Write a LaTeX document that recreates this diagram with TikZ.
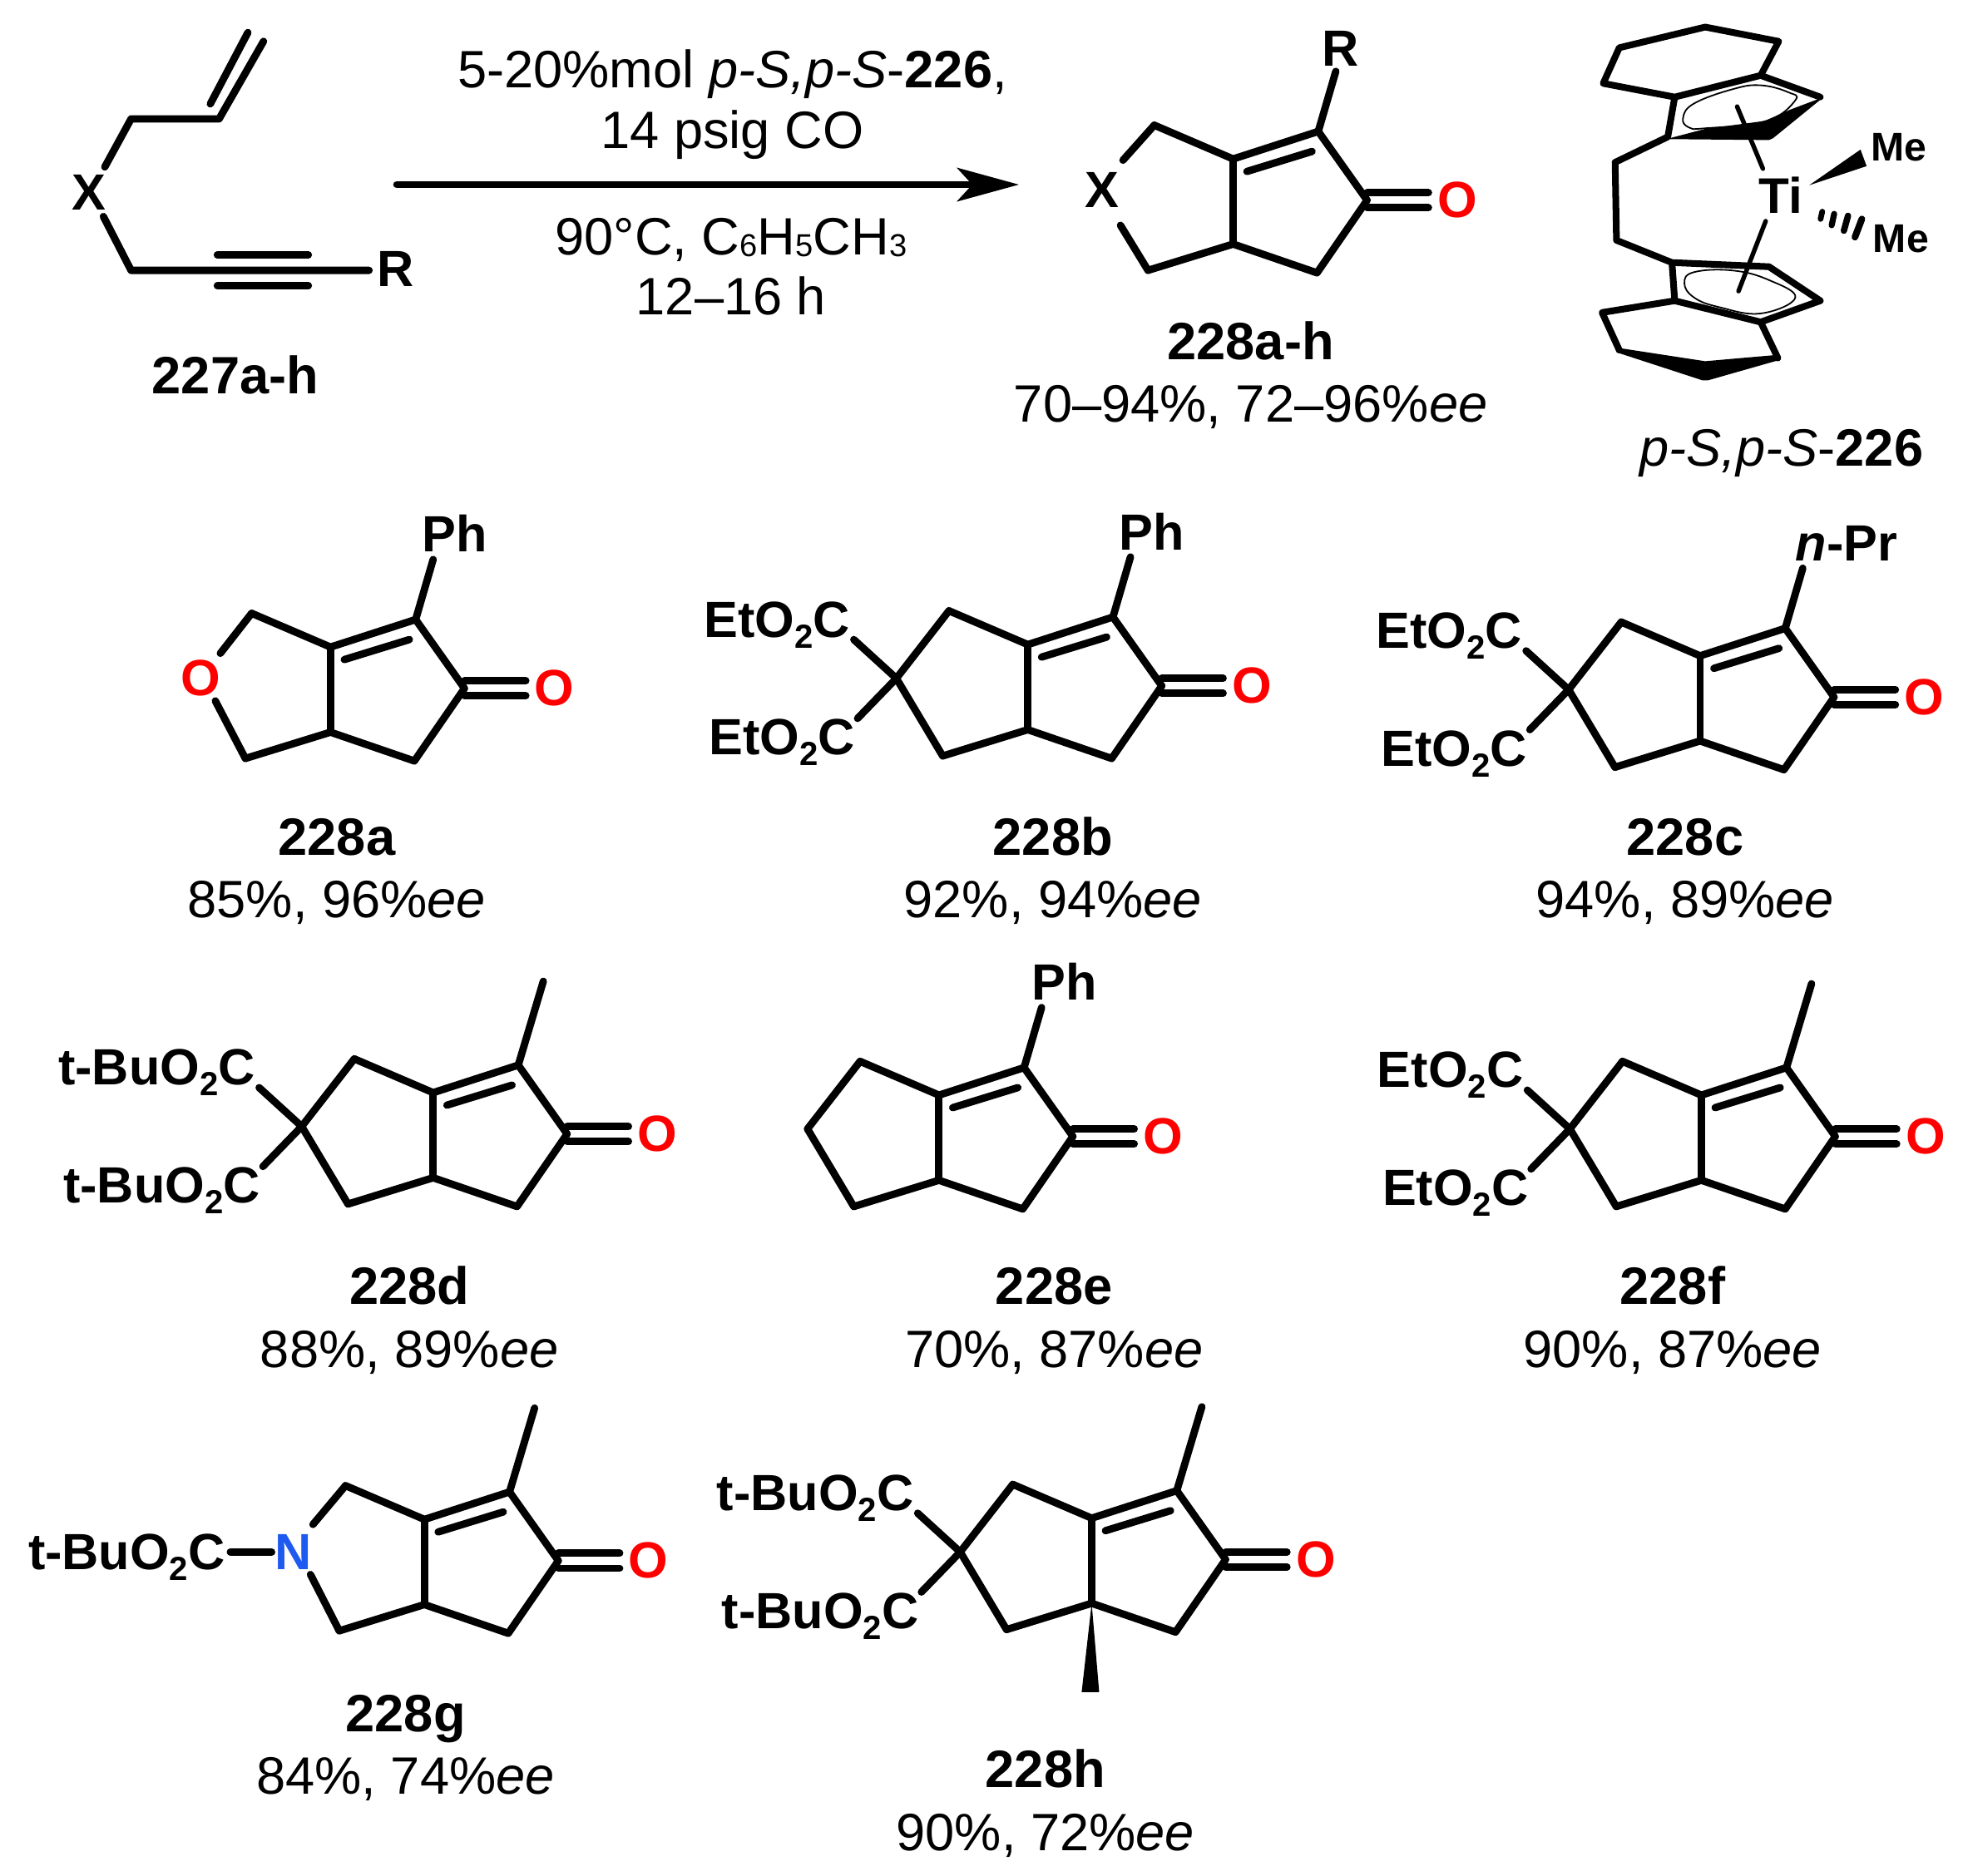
\documentclass[tikz,border=0pt]{standalone}
\usepackage{fontspec}
\setmainfont{Liberation Sans}
\usetikzlibrary{arrows.meta,calc}
\definecolor{oxred}{RGB}{255,0,0}
\definecolor{nblue}{RGB}{30,90,240}
\newcommand\chemsub[1]{\raisebox{-6.5pt}{\fontsize{20}{20}\selectfont #1}}
\newcommand\plainsub[1]{\raisebox{-1pt}{\fontsize{19}{19}\selectfont #1}}
\tikzset{
  bond/.style={line width=4.4pt,line cap=round,line join=round},
  thinbond/.style={line width=2.7pt,line cap=round},
  atom/.style={font=\fontsize{30.5}{36}\selectfont\bfseries,inner sep=0pt,anchor=center},
  grp/.style={font=\fontsize{30.5}{36}\selectfont\bfseries,inner sep=0pt,anchor=base east},
  caption/.style={font=\fontsize{31.5}{36}\selectfont,inner sep=0pt,anchor=base,yshift=-10.8pt},
  ring/.style={line width=0.9pt},
}
% bicyclic enone core: name, x, y of the upper ring-fusion atom
\newcommand\Core[3]{%
\begin{scope}[shift={(#2,#3)}]
  \coordinate (#1a) at (0,0);
  \coordinate (#1b) at (0,68);
  \coordinate (#1c) at (68,-22);
  \coordinate (#1d) at (107,33);
  \coordinate (#1e) at (67,91);
  \coordinate (#1f) at (-63,-27);
  \coordinate (#1g) at (-105,27);
  \coordinate (#1h) at (-68,89);
  \coordinate (#1o) at (156,33);
  \coordinate (#1i) at (11,10);
  \coordinate (#1j) at (63,-6);
  \coordinate (#1m) at (88,-89);
  \coordinate (#1p) at (82,-70);
  \node[atom,text=oxred] (#1O) at (179,33) {O};
  \draw[bond] (#1h) -- (#1b) -- (#1e) -- (#1d) -- (#1c) -- (#1a) -- (#1f);
  \draw[bond] (#1a) -- (#1b);
  \draw[bond] (#1i) -- (#1j);
  \draw[bond] ([yshift=4.5pt]#1d) -- ([yshift=4.5pt]#1o);
  \draw[bond] ([yshift=-4.5pt]#1d) -- ([yshift=-4.5pt]#1o);
\end{scope}}
% carbon left ring closure
\newcommand\Closure[1]{\draw[bond] (#1f) -- (#1g) -- (#1h);}
% geminal diester: name, group text
\newcommand\Ester[2]{%
  \node[grp] (#1e1) at ($(#1a)+(-142,-6)$) {#2};
  \node[grp] (#1e2) at ($(#1a)+(-138,88)$) {#2};
  \coordinate (#1k1) at ($(#1a)+(-139,-4)$);
  \coordinate (#1k2) at ($(#1a)+(-136,59)$);
  \draw[bond] (#1g) -- (#1k1);
  \draw[bond] (#1g) -- (#1k2);}
\newcommand\Methyl[1]{\draw[bond] (#1c) -- (#1m);}
\newcommand\Subst[3]{%
  \node[atom] (#1s) at ($(#1a)+#3$) {#2};
  \draw[bond] (#1c) -- (#1p);}
\newcommand\Cap[5]{%
  \node[caption] (#1n) at (#2,#3) {\bfseries #4};
  \node[caption] (#1y) at (#2,#3+50) {#5};}
\begin{document}
\begin{tikzpicture}[x=0.75pt,y=-0.75pt]
\useasboundingbox (0,0) rectangle (1568,1498.3);

% ---------- substrate 227
\node[atom] (X) at (71,154) {X};
\coordinate (s1) at (83.7,133.4);
\coordinate (s2) at (104.7,95);
\coordinate (s3) at (175,95);
\coordinate (s4) at (210.5,33);
\coordinate (s5) at (168,83);
\coordinate (s6) at (198,26);
\coordinate (t1) at (82.6,173);
\coordinate (t2) at (104.7,216);
\coordinate (t3) at (294.8,216);
\coordinate (t4) at (173.6,203.6);
\coordinate (t5) at (246.3,203.6);
\coordinate (t6) at (173.6,228.3);
\coordinate (t7) at (246.3,228.3);
\node[atom] (R1) at (316,215) {R};
\draw[bond] (s1) -- (s2) -- (s3) -- (s4);
\draw[bond] (s5) -- (s6);
\draw[bond] (t1) -- (t2) -- (t3);
\draw[bond] (t4) -- (t5);
\draw[bond] (t6) -- (t7);
\node[caption] (L227) at (188,300) {\bfseries 227a-h};

% ---------- arrow and conditions
\coordinate (arrA) at (317,147.5);
\coordinate (arrB) at (814,147.5);
\draw[line width=4.4pt,line cap=round,-{Stealth[length=37pt,width=20pt,inset=9pt]}] (arrA) -- (arrB);
\node[caption] (c1) at (585,56) {5-20\%mol \textit{p-S,p-S}-\textbf{226},};
\node[caption] (c2) at (585,104.5) {14 psig CO};
\node[caption] (c3) at (584,189) {90°C, C\plainsub{6}H\plainsub{5}CH\plainsub{3}};
\node[caption] (c4) at (584,237) {12–16 h};

% ---------- general product 228a-h
\Core{p}{985}{127}
\node[atom] (pX) at (880,152) {X};
\coordinate (pu) at (897,128);
\coordinate (pv) at (895,180);
\draw[bond] (pf) -- (pu);
\draw[bond] (ph) -- (pv);
\Subst{p}{R}{(86,-88)}
\Cap{p}{999}{273}{228a-h}{70–94\%, 72–96\%\textit{ee}}

% ---------- catalyst 226
\begin{scope}[shift={(1229.2,0)},x=0.1661pt,y=-0.1907pt]
  \coordinate (k1) at (232,262);
  \coordinate (k2) at (290,150);
  \coordinate (k3) at (600,85);
  \coordinate (k4) at (865,130);
  \coordinate (k5) at (800,237);
  \coordinate (k6) at (490,305);
  \coordinate (k7) at (1015,305);
  \coordinate (k8) at (465,430);
  \coordinate (k9) at (275,510);
  \coordinate (k10) at (280,755);
  \coordinate (k11) at (480,825);
  \coordinate (k12) at (830,838);
  \coordinate (k13) at (1015,945);
  \coordinate (k14) at (800,1012);
  \coordinate (k15) at (490,945);
  \coordinate (k16) at (228,982);
  \coordinate (k17) at (290,1100);
  \coordinate (k18) at (600,1140);
  \coordinate (k19) at (862,1125);
  \draw[bond,line width=4pt] (k6) -- (k1) -- (k2) -- (k3) -- (k4) -- (k5) -- (k6) -- (k8) -- (k9) -- (k10) -- (k11) -- (k12) -- (k13) -- (k14) -- (k15) -- (k11);
  \draw[bond,line width=4pt] (k5) -- (k7);
  \draw[bond,line width=4pt] (k15) -- (k16) -- (k17);
  \draw[bond,line width=4pt] (k14) -- (k19);
  \fill (460,437) -- (600,405) -- (815,380) -- (905,345) -- (1027,305) -- (845,434) -- (830,440) -- cycle;
  \fill (285,1093) -- (600,1135) -- (862,1115) -- (872,1130) -- (610,1195) -- (590,1195) -- (280,1107) -- cycle;
  \draw[ring] plot[smooth cycle,tension=0.7] coordinates {(520,370) (560,325) (700,280) (800,268) (900,290) (925,315) (820,380) (600,403) (540,400)};
  \draw[ring] plot[smooth cycle,tension=0.7] coordinates {(525,890) (560,855) (700,850) (830,880) (925,935) (800,985) (650,965) (560,935)};
  \node[atom,font=\fontsize{30}{32}\selectfont\bfseries] (Ti) at (873,612) {Ti};
  \coordinate (u1) at (715,335);
  \coordinate (u2) at (808,530);
  \coordinate (u3) at (818,695);
  \coordinate (u4) at (720,915);
  \draw[thinbond] (u1) -- (u2);
  \draw[thinbond] (u3) -- (u4);
  \fill (975,582) -- (1160,470) -- (1182,522) -- cycle;
  \draw[line cap=round,line width=3.4pt] (1022,665) -- (1016,688);
  \draw[line cap=round,line width=3.6pt] (1065,672) -- (1056,708);
  \draw[line cap=round,line width=3.8pt] (1115,678) -- (1100,725);
  \draw[line cap=round,line width=4pt] (1165,688) -- (1140,745);
  \node[atom,font=\fontsize{24}{28}\selectfont\bfseries] (Me1) at (1298,462) {Me};
  \node[atom,font=\fontsize{24}{28}\selectfont\bfseries] (Me2) at (1306,750) {Me};
\end{scope}
\node[caption] (L226) at (1423,358) {\textit{p-S,p-S}-\textbf{226}};

% ---------- 228a
\Core{A}{264}{517}
\node[atom,text=oxred] (AX) at (160,542) {O};
\coordinate (Au) at (176,522);
\coordinate (Av) at (172,560);
\draw[bond] (Af) -- (Au);
\draw[bond] (Ah) -- (Av);
\Subst{A}{Ph}{(99,-91)}
\Cap{A}{269}{669}{228a}{85\%, 96\%\textit{ee}}

% ---------- 228b
\Core{B}{821}{515}
\Closure{B}
\Ester{B}{EtO\chemsub{2}C}
\Subst{B}{Ph}{(99,-90)}
\Cap{B}{841}{669}{228b}{92\%, 94\%\textit{ee}}

% ---------- 228c
\Core{C}{1358}{524}
\Closure{C}
\Ester{C}{EtO\chemsub{2}C}
\Subst{C}{\textit{n}-Pr}{(117,-90)}
\Cap{C}{1346}{669}{228c}{94\%, 89\%\textit{ee}}

% ---------- 228d
\Core{D}{346}{873}
\Closure{D}
\Ester{D}{t-BuO\chemsub{2}C}
\Methyl{D}
\Cap{D}{327}{1028}{228d}{88\%, 89\%\textit{ee}}

% ---------- 228e
\Core{E}{750}{875}
\Closure{E}
\Subst{E}{Ph}{(100,-91)}
\Cap{E}{842}{1028}{228e}{70\%, 87\%\textit{ee}}

% ---------- 228f
\Core{F}{1359}{875}
\Closure{F}
\Ester{F}{EtO\chemsub{2}C}
\Methyl{F}
\Cap{F}{1336}{1028}{228f}{90\%, 87\%\textit{ee}}

% ---------- 228g
\Core{G}{339}{1214}
\node[atom,text=nblue] (GX) at (234,1240) {N};
\coordinate (Gu) at (250,1218);
\coordinate (Gv) at (248,1258);
\coordinate (Gw) at (217,1240);
\node[grp] (GR) at (180,1254) {t-BuO\chemsub{2}C};
\coordinate (Gz) at (184,1240);
\draw[bond] (Gf) -- (Gu);
\draw[bond] (Gh) -- (Gv);
\draw[bond] (Gw) -- (Gz);
\Methyl{G}
\Cap{G}{324}{1369}{228g}{84\%, 74\%\textit{ee}}

% ---------- 228h
\Core{H}{872}{1213}
\Closure{H}
\Ester{H}{t-BuO\chemsub{2}C}
\Methyl{H}
\fill (Hb) -- ($(Hb)+(-8,71)$) -- ($(Hb)+(6,71)$) -- cycle;
\Cap{H}{835}{1414}{228h}{90\%, 72\%\textit{ee}}
\end{tikzpicture}
\end{document}
